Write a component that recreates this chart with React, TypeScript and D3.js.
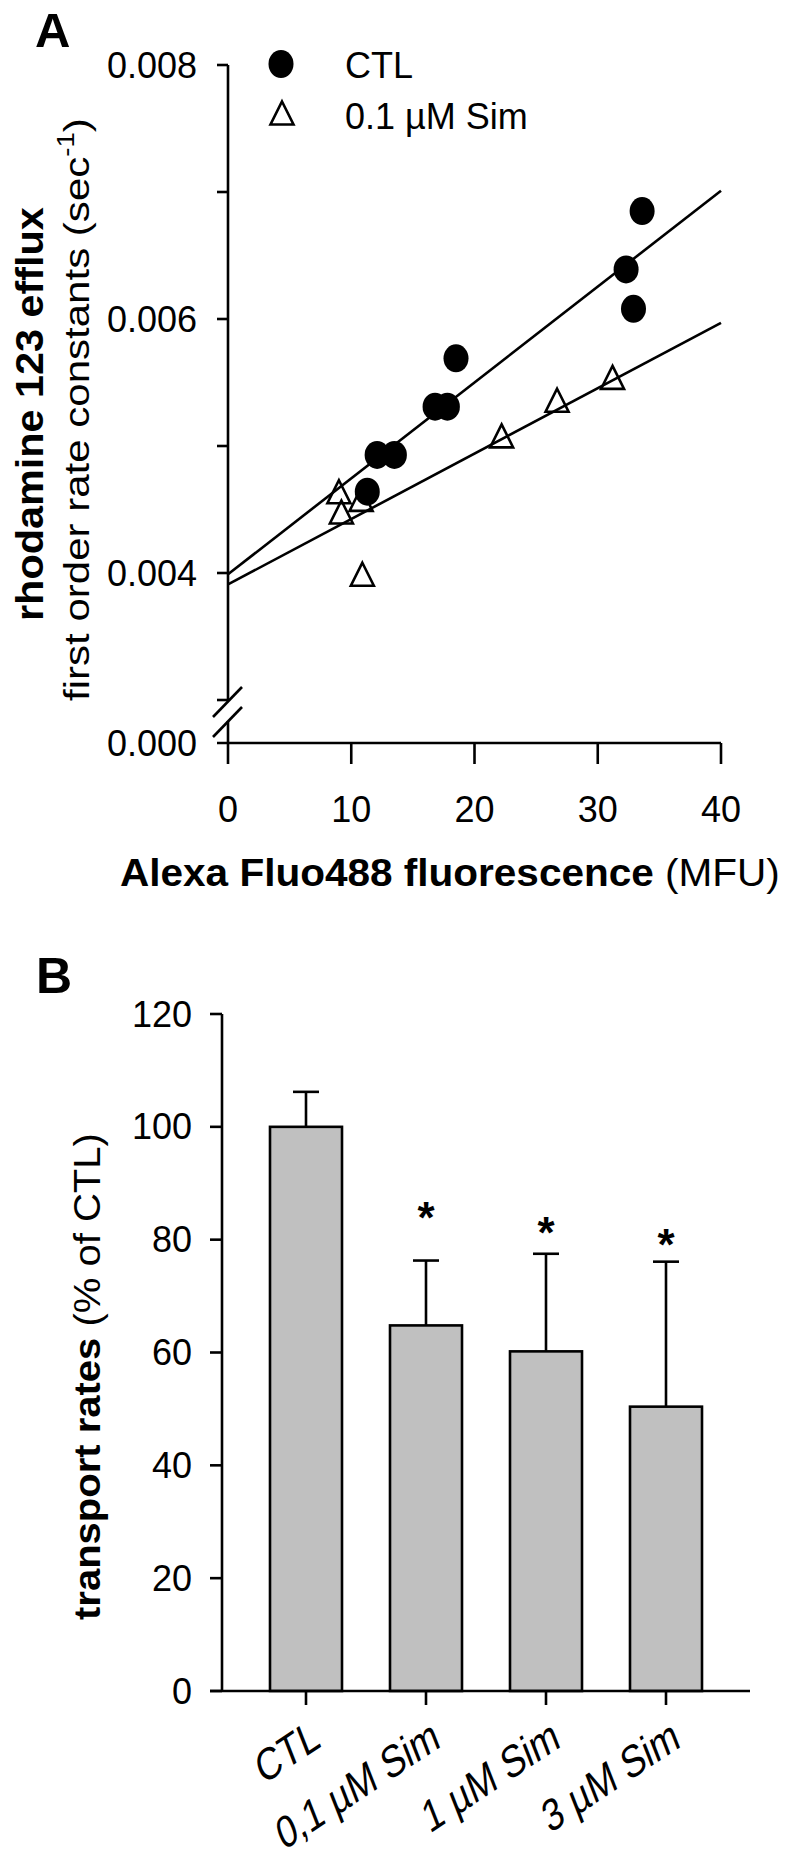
import React, { useEffect, useRef } from 'react';
import * as d3 from 'd3';

const W = 786, H = 1856;
const FONT = '"Liberation Sans", Arial, Helvetica, sans-serif';

// Panel A: rhodamine 123 efflux rate vs Alexa Fluo488 fluorescence
const ctlX = [33.6, 32.3, 32.9, 18.5, 16.8, 17.8, 12.1, 13.5, 11.3];
const ctlY = [0.00685, 0.00639, 0.00608, 0.00569, 0.00531, 0.00531, 0.00493, 0.00493, 0.00464];
const simX = [9.0, 9.2, 10.8, 10.9, 22.2, 26.7, 31.2];
const simY = [0.00464, 0.00448, 0.00458, 0.00399, 0.00508, 0.00536, 0.00554];
const fitX = [0, 40];
const ctlFit = [0.00399, 0.00701];
const simFit = [0.00391, 0.00597];
const yTicksA = [0.003, 0.004, 0.005, 0.006, 0.007, 0.008];
const yLabelledA = [0.004, 0.006, 0.008];
const xTicksA = [0, 10, 20, 30, 40];

// Panel B: transport rates (% of CTL)
const groups = ['CTL', '0,1 µM Sim', '1 µM Sim', '3 µM Sim'];
const rates = [100, 64.8, 60.2, 50.4];
const errs = [6.2, 11.5, 17.3, 25.7];
const sigY = [null, 85.6, 82.9, 80.8];
const yTicksB = [0, 20, 40, 60, 80, 100, 120];

const App = () => {
  const ref = useRef(null);

  useEffect(() => {
    const svg = d3.select(ref.current);
    svg.selectAll('*').remove();
    svg.attr('font-family', FONT);
    const sw = 2.6;

    const line = (x1, y1, x2, y2) =>
      svg.append('line').attr('x1', x1).attr('y1', y1).attr('x2', x2).attr('y2', y2)
        .attr('stroke', '#000').attr('stroke-width', sw);

    // titles stretched to the measured length of the reference
    const fitTitle = (x, y, angle, parts, size, target) => {
      const g = svg.append('g').attr('transform', `translate(${x},${y}) rotate(${angle})`);
      const inner = g.append('g');
      const t = inner.append('text').attr('font-size', size).attr('fill', '#000');
      parts.forEach(p => {
        const ts = t.append('tspan').text(p.text).attr('font-weight', p.bold ? 'bold' : 'normal');
        if (p.size) ts.attr('font-size', p.size);
        if (p.dy) ts.attr('dy', p.dy);
      });
      const w = t.node().getComputedTextLength();
      inner.attr('transform', `scale(${target / w},1)`);
    };

    // ---------- Panel A ----------
    const x = d3.scaleLinear().domain([0, 40]).range([228, 721]);
    const y = d3.scaleLinear().domain([0.003, 0.008]).range([700, 65]);
    const yZero = 743;

    svg.append('text').attr('x', 35).attr('y', 47).attr('font-size', 49)
      .attr('font-weight', 'bold').text('A');

    // y axis with break
    line(228, y(0.008), 228, y(0.003));
    line(228, 721, 228, yZero);
    line(213, 717, 242, 687);
    line(213, 737, 242, 707);
    yTicksA.forEach(v => line(217, y(v), 228, y(v)));
    const fmt = d3.format('.3f');
    yLabelledA.forEach(v => {
      svg.append('text').attr('x', 197).attr('y', y(v)).attr('dy', '0.35em')
        .attr('text-anchor', 'end').attr('font-size', 36).text(fmt(v));
    });
    svg.append('text').attr('x', 197).attr('y', yZero).attr('dy', '0.35em')
      .attr('text-anchor', 'end').attr('font-size', 36).text(fmt(0));

    // x axis
    line(217, yZero, x(40), yZero);
    xTicksA.forEach(v => {
      line(x(v), yZero, x(v), yZero + 21);
      svg.append('text').attr('x', x(v)).attr('y', 822).attr('text-anchor', 'middle')
        .attr('font-size', 36).text(v);
    });

    // regression lines
    [ctlFit, simFit].forEach(f => {
      svg.append('path')
        .attr('d', d3.line().x(d => x(d[0])).y(d => y(d[1]))(fitX.map((v, i) => [v, f[i]])))
        .attr('fill', 'none').attr('stroke', '#000').attr('stroke-width', sw);
    });

    const triPath = (cx, cy, s) =>
      `M${cx},${cy - s / 2}L${cx + s / 2},${cy + s / 2}L${cx - s / 2},${cy + s / 2}Z`;

    svg.append('g').selectAll('path').data(simX.map((v, i) => [v, simY[i]])).enter()
      .append('path').attr('d', d => triPath(x(d[0]), y(d[1]), 23))
      .attr('fill', 'none').attr('stroke', '#000').attr('stroke-width', sw);

    svg.append('g').selectAll('ellipse').data(ctlX.map((v, i) => [v, ctlY[i]])).enter()
      .append('ellipse').attr('cx', d => x(d[0])).attr('cy', d => y(d[1]))
      .attr('rx', 12.5).attr('ry', 14).attr('fill', '#000');

    // legend
    svg.append('ellipse').attr('cx', 281).attr('cy', 64).attr('rx', 12.5).attr('ry', 14).attr('fill', '#000');
    svg.append('text').attr('x', 345).attr('y', 78).attr('font-size', 36).text('CTL');
    svg.append('path').attr('d', triPath(282, 113, 23)).attr('fill', 'none')
      .attr('stroke', '#000').attr('stroke-width', sw);
    svg.append('text').attr('x', 345).attr('y', 129).attr('font-size', 36).text('0.1 µM Sim');

    // axis titles
    fitTitle(43, 621, -90, [{ text: 'rhodamine 123 efflux', bold: true }], 38, 414);
    fitTitle(89, 701, -90, [
      { text: 'first order rate constants (sec' },
      { text: '-1', size: 23, dy: -15 },
      { text: ')', dy: 15 },
    ], 35, 583);
    fitTitle(120, 886, 0, [
      { text: 'Alexa Fluo488 fluorescence', bold: true },
      { text: ' (MFU)' },
    ], 39, 660);

    // ---------- Panel B ----------
    const xB = d3.scalePoint().domain(groups).range([306, 666]);
    const yB = d3.scaleLinear().domain([0, 120]).range([1691, 1014]);
    const bw = 72;

    svg.append('text').attr('x', 36).attr('y', 993).attr('font-size', 50)
      .attr('font-weight', 'bold').text('B');

    groups.forEach((g, i) => {
      const cx = xB(g);
      const top = yB(rates[i] + errs[i]);
      line(cx, yB(rates[i]), cx, top);
      line(cx - 13, top, cx + 13, top);
    });

    svg.append('g').selectAll('rect').data(groups).enter().append('rect')
      .attr('x', d => xB(d) - bw / 2).attr('y', (d, i) => yB(rates[i]))
      .attr('width', bw).attr('height', (d, i) => yB(0) - yB(rates[i]))
      .attr('fill', '#c0c0c0').attr('stroke', '#000').attr('stroke-width', sw);

    line(222, yB(120), 222, yB(0));
    line(210, yB(0), 750, yB(0));
    yTicksB.forEach(v => {
      line(210, yB(v), 222, yB(v));
      svg.append('text').attr('x', 192).attr('y', yB(v)).attr('dy', '0.35em')
        .attr('text-anchor', 'end').attr('font-size', 36).text(v);
    });

    groups.forEach((g, i) => {
      const cx = xB(g);
      line(cx, yB(0), cx, yB(0) + 14);
      // slanted category labels (rotated, then stretched vertically like the original)
      svg.append('text').attr('transform', `translate(${cx + 16},${1746}) scale(1,1.3) rotate(-27)`)
        .attr('text-anchor', 'end').attr('font-size', 35).text(g);
      if (sigY[i] != null) {
        svg.append('text').attr('x', cx).attr('y', yB(sigY[i]) + 25).attr('text-anchor', 'middle')
          .attr('font-size', 44).attr('font-weight', 'bold').text('*');
      }
    });

    fitTitle(100, 1620, -90, [
      { text: 'transport rates', bold: true },
      { text: ' (% of CTL)' },
    ], 36, 487);
  }, []);

  return (
    <svg ref={ref} width={W} height={H}
      style={{ position: 'absolute', left: 0, top: 0, display: 'block', background: '#fff' }} />
  );
};

export default App;
